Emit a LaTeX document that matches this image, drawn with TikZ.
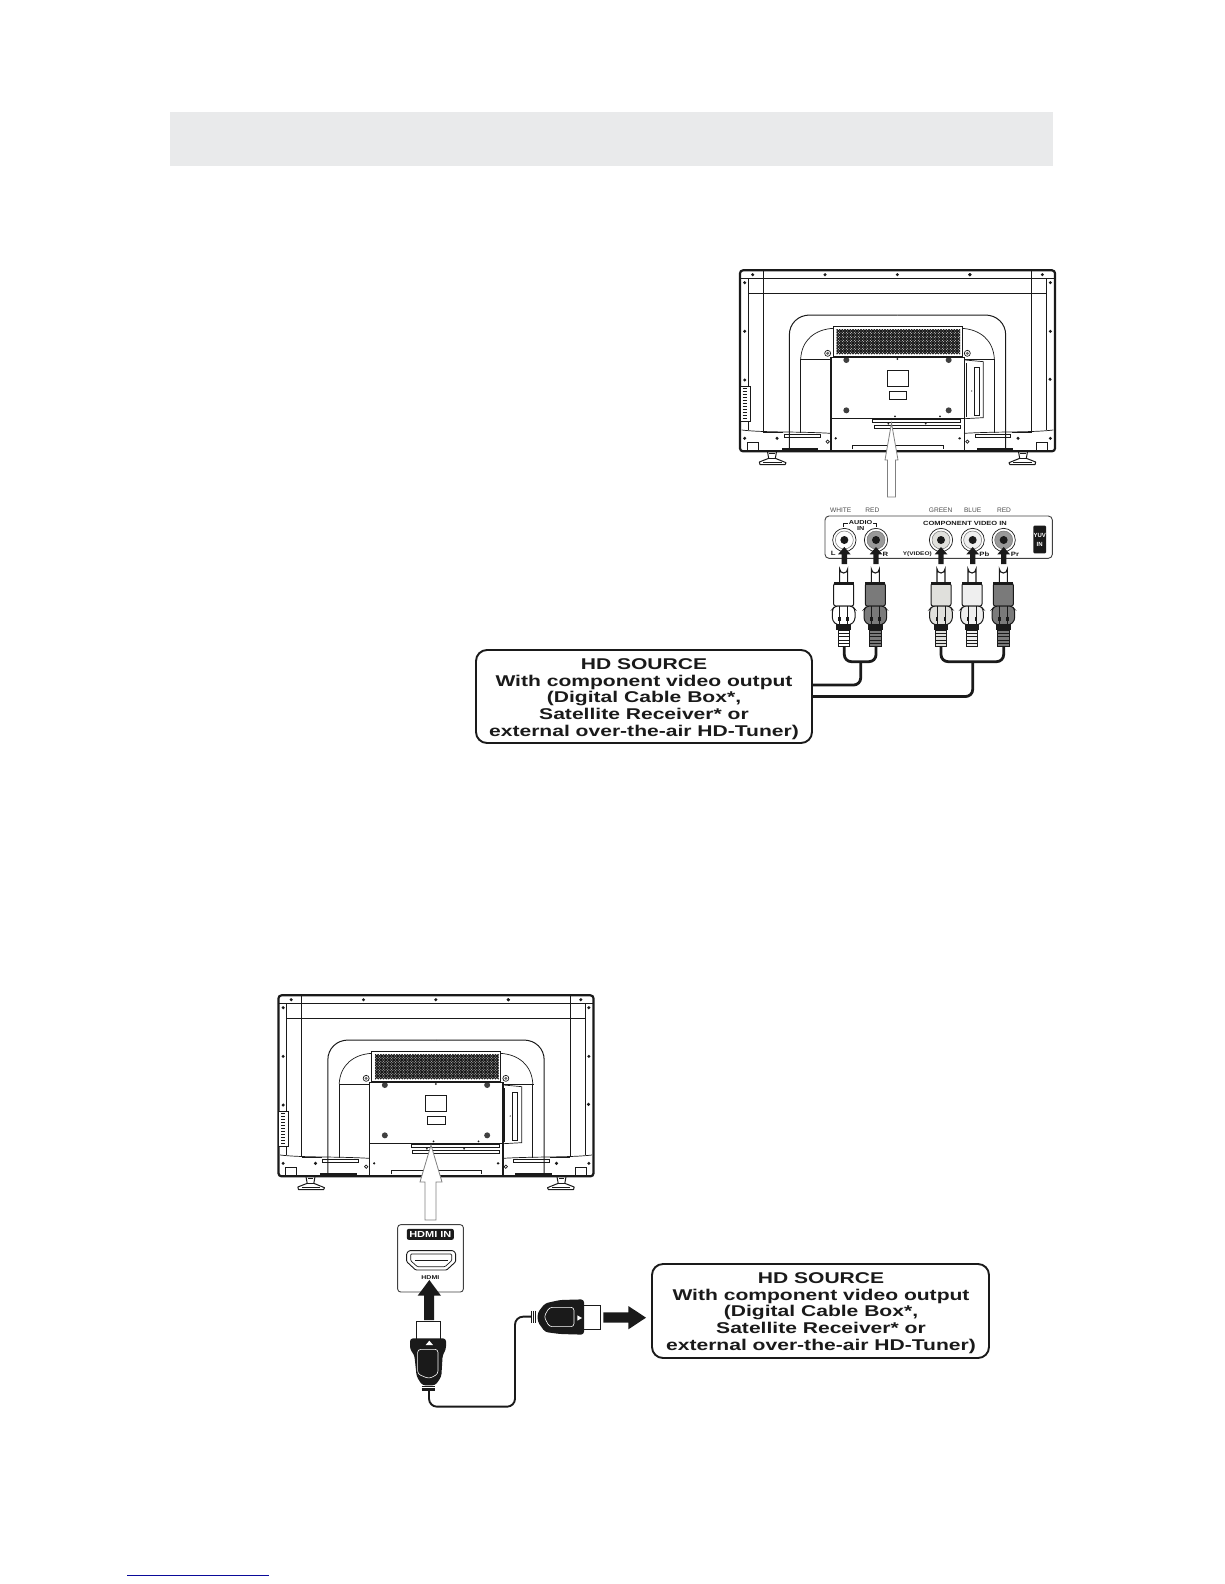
\documentclass[tikz,border=0pt]{standalone}
\usepackage{fontspec}
\setmainfont{Liberation Sans}
\newfontfamily\wideb[FakeStretch=1.35]{Liberation Sans Bold}
\newfontfamily\widec[FakeStretch=1.25]{Liberation Sans Bold}
\definecolor{barcol}{HTML}{E9EAEB}
\definecolor{linkcol}{HTML}{0A0A99}
\definecolor{inkcol}{HTML}{1A1A1A}
\definecolor{arrowgrey}{HTML}{808080}
\definecolor{plugdark}{HTML}{7A7A7A}
\definecolor{pluglight}{HTML}{E0E0DC}
\definecolor{plugpale}{HTML}{EFEFEF}
\tikzset{
  zoomunits/.style={x=0.33333pt,y=-0.33333pt},
  mirrortv/.style={shift={(1005,0)},xscale=-1},
  thinln/.style={draw=inkcol,line width=0.7pt},
  midln/.style={draw=inkcol,line width=1pt},
  thickln/.style={draw=inkcol,line width=1.6pt},
  heavyln/.style={draw=inkcol,line width=2.2pt},
  screwdot/.style={fill=inkcol,draw=none},
  sourcebox/.style={draw=inkcol,line width=1.9pt,rounded corners=11pt,fill=white},
  sourcetext/.style={inner sep=0pt,text=inkcol,text height=11pt,text depth=0pt,font=\wideb\fontsize{15.6}{16}\selectfont},
  tinylabel/.style={inner sep=0pt,text=black!70,font=\fontsize{6.6}{7}\selectfont},
  boldtiny/.style={inner sep=0pt,text=inkcol,font=\widec\fontsize{6.2}{7}\selectfont},
  hollowarrow/.style={draw=arrowgrey,line width=0.8pt,fill=white,line join=miter},
  wire/.style={draw=inkcol,line width=2.8pt,rounded corners=7pt},
  thinwire/.style={draw=inkcol,line width=1.9pt,rounded corners=7pt},
  blackarrow/.style={fill=inkcol,draw=none}
}
\newcommand{\tvside}{%
  \draw[thinln] (55,55)--(55,510);
  \draw[thinln] (100,32)--(100,516);
  \foreach \px/\py in {68/44,285/44,44/68,44/214,44/535,141/535}{\fill[screwdot] (\px,\py) circle[radius=5];}
  \draw[midln] (178,565)--(178,225) .. controls (178,190) and (205,165) .. (240,165) -- (502.5,165);
  \draw[thinln] (212,297) .. controls (215,240) and (255,208) .. (310,205);
  \draw[thinln] (303,297)--(212,297)--(212,520);
  \draw[thinln] (35,510) .. controls (100,518) and (200,514) .. (303,520);
  \draw[midln] (100,516)--(160,516);
  \draw[thinln] (163,522)--(270,522)--(270,532)--(163,532)--cycle;
  \fill[inkcol] (155,563) rectangle (265,574);
  \draw[thinln,fill=white] (293,280) circle[radius=9];
  \fill[black!60] (293,280) circle[radius=5];
  \draw[thinln] (293,545) circle[radius=5];
  \fill[screwdot] (317,535) circle[radius=3.5];
  \fill[black!75] (349,300) circle[radius=9];
  \fill[black!75] (349,451) circle[radius=9];
  \draw[midln,fill=white] (52,548) rectangle (85,572);
  \draw[midln,fill=white,line join=round] (112,572)--(140,572)--(136,595)--(168,608)--(165,614)--(90,614)--(88,606)--(116,595)--cycle;
  \draw[thinln] (116,595)--(136,595) (118,580)--(134,580) (100,606)--(155,606);
}
\newcommand{\tvback}{%
  \tvside
  \begin{scope}[mirrortv]\tvside\end{scope}
  \draw[thinln] (30,55)--(975,55) (55,100)--(952,100);
  \foreach \px in {502,719}{\fill[screwdot] (\px,44) circle[radius=5];}
  \fill[screwdot] (44,360) circle[radius=5];
  \fill[screwdot] (960,358) circle[radius=5];
  \draw[heavyln,rounded corners=3pt] (30,31) rectangle (975,574);
  \draw[midln,fill=white] (310,200) rectangle (697,290);
  \begin{scope}
    \clip (320,208) rectangle (690,282);
    \foreach \i in {240,248,...,700}{
      \draw[inkcol,line width=1pt] (\i,208)--(\i+74,282);
      \draw[inkcol,line width=1pt] (\i+74,208)--(\i,282);
    }
  \end{scope}
  \draw[thickln] (303,292) rectangle (703,574);
  \draw[thickln] (303,476)--(703,476);
  \draw[midln] (472,332) rectangle (535,380);
  \draw[thinln] (478,394) rectangle (530,419);
  \draw[thinln] (428,478) rectangle (692,488);
  \draw[thinln] (433,496) rectangle (692,505);
  \draw[midln] (368,568)--(368,557)--(640,557)--(640,568);
  \foreach \px/\py in {502/297,495/469,630/469,475/491,587/491,317/535,690/535}{\fill[screwdot] (\px,\py) circle[radius=3];}
  \draw[thinln] (705,300)--(760,305)--(760,473)--(705,476);
  \draw[midln] (708,310)--(708,470);
  \draw[midln] (733,322) rectangle (747,467);
  \draw[thinln] (703,297)--(795,297);
  \fill[screwdot] (725,393) circle[radius=2];
  \draw[midln,fill=white] (32,378)--(60,378)--(60,485)--(32,485);
  \foreach \py in {386,395,...,476}{\draw[inkcol,line width=1.4pt] (38,\py)--(50,\py);}
}
\newcommand{\rcajack}[2]{%
  \draw[inkcol,line width=0.7pt,fill=white] (#1,150) circle[radius=35];
  \draw[draw=black!55,line width=0.5pt,fill=#2] (#1,150) circle[radius=27];
  \fill[inkcol] (#1,150) circle[radius=12];
  \fill[blackarrow] (#1-8,222)--(#1-8,193)--(#1-19,193)--(#1,171)--(#1+19,193)--(#1+8,193)--(#1+8,222)--cycle;
}
\newcommand{\rcaplug}[2]{%
  \begin{scope}[shift={(#1,0)}]
    \draw[inkcol,line width=1.1pt,fill=white] (-12,285)--(-12,237) arc[start angle=180,end angle=0,radius=12]--(12,285);
    \draw[inkcol,line width=1pt,fill=#2,rounded corners=2pt] (-30,348)--(-30,280)--(30,280)--(30,348)--cycle;
    \fill[inkcol] (-30,277) rectangle (30,284);
    \draw[inkcol,line width=1pt,fill=#2,rounded corners=3pt] (-26,348)--(26,348)--(34,358)--(34,392)--(20,405)--(-20,405)--(-34,392)--(-34,358)--cycle;
    \draw[inkcol,line width=0.8pt] (-12,349)--(-12,405) (12,349)--(12,405);
    \fill[inkcol] (-16,380) rectangle (-8,392);
    \fill[inkcol] (8,380) rectangle (16,392);
    \fill[inkcol] (-22,403) rectangle (22,420);
    \draw[inkcol,line width=0.9pt,fill=#2] (-17,420) rectangle (17,468);
    \foreach \ry in {430,440,450,460}{\draw[inkcol,line width=0.9pt] (-17,\ry)--(17,\ry);}
  \end{scope}
}
\begin{document}
\begin{tikzpicture}[x=1pt,y=-1pt]
\useasboundingbox (0,0) rectangle (1224,1584);
\fill[barcol] (170,112) rectangle (1053,166);
\fill[linkcol] (127,1574.6) rectangle (269,1575.9);

% first television
\begin{scope}[shift={(730,260)},zoomunits]
  \tvback
\end{scope}
\draw[hollowarrow] (887.5,497)--(887.5,460)--(885,460)--(891.5,423)--(898,460)--(895.5,460)--(895.5,497)--cycle;

% component panel
\begin{scope}[shift={(800,490)},zoomunits]
  \draw[draw=black!75,line width=0.9pt,rounded corners=4pt] (75,78) rectangle (757,205);
  \node[tinylabel] (lbWhite) at (122,60) {WHITE};
  \node[tinylabel] (lbRedA) at (217,60) {RED};
  \node[tinylabel] (lbGreen) at (422,60) {GREEN};
  \node[tinylabel] (lbBlue) at (518,60) {BLUE};
  \node[tinylabel] (lbRedB) at (612,60) {RED};
  \node[boldtiny,font=\widec\fontsize{5.8}{7}\selectfont] (lbAudio) at (182,98) {AUDIO};
  \node[boldtiny,font=\widec\fontsize{5.8}{7}\selectfont] (lbIn) at (182,116) {IN};
  \draw[inkcol,line width=0.7pt] (131,110)--(131,100)--(143,100) (220,100)--(230,100)--(230,110);
  \node[boldtiny,font=\widec\fontsize{6}{7}\selectfont] (lbComp) at (495,101) {COMPONENT VIDEO IN};
  \node[boldtiny] (lbL) at (100,191) {L};
  \node[boldtiny] (lbR) at (256,193) {R};
  \node[boldtiny,font=\widec\fontsize{5.2}{6}\selectfont] (lbY) at (352,192) {Y(VIDEO)};
  \node[boldtiny] (lbPb) at (553,193) {Pb};
  \node[boldtiny] (lbPr) at (645,193) {Pr};
  \fill[inkcol,rounded corners=1pt] (700,107) rectangle (738,190);
  \node[inner sep=0pt,text=white,align=center,font=\bfseries\fontsize{6}{9}\selectfont] (lbYuv) at (719,149) {YUV\\IN};
  \rcajack{133}{white}
  \rcajack{228}{black!40}
  \rcajack{423}{pluglight}
  \rcajack{518}{plugpale}
  \rcajack{611}{black!40}
  \coordinate (plugA) at (133,470);
  \coordinate (plugB) at (228,470);
  \coordinate (plugC) at (423,470);
  \coordinate (plugD) at (518,470);
  \coordinate (plugE) at (611,470);
  \coordinate (joinA) at (182,515);
  \coordinate (joinB) at (518,515);
  \draw[wire] (plugA)--(133,515)--(228,515)--(plugB);
  \draw[wire] (plugC)--(423,515)--(611,515)--(plugE);
  \rcaplug{131}{white}
  \rcaplug{226}{plugdark}
  \rcaplug{423}{pluglight}
  \rcaplug{516}{plugpale}
  \rcaplug{610}{plugdark}
\end{scope}

% first source box
\node[sourcebox,minimum width=336pt,minimum height=93pt,inner sep=0pt] (sourceA) at (644,696.5) {};
\node[sourcetext] (srcA1) at (644,663.5) {HD SOURCE};
\node[sourcetext] (srcA2) at (644,680.5) {With component video output};
\node[sourcetext] (srcA3) at (644,697) {(Digital Cable Box*,};
\node[sourcetext] (srcA4) at (644,714) {Satellite Receiver* or};
\node[sourcetext] (srcA5) at (644,731) {external over-the-air HD-Tuner)};
\draw[wire] (sourceA.east |- 0,685)--(joinA |- 0,685)--(joinA);
\draw[wire] (sourceA.east |- 0,696.5)--(joinB |- 0,696.5)--(joinB);

% second television
\begin{scope}[shift={(268.5,985)},zoomunits]
  \tvback
\end{scope}
\draw[hollowarrow] (425,1220)--(425,1182)--(420,1182)--(431,1145)--(442,1182)--(436,1182)--(436,1220)--cycle;

% hdmi panel and connectors
\begin{scope}[shift={(380,1190)},zoomunits]
  \draw[draw=black!75,line width=0.9pt,fill=white,rounded corners=3pt] (53,104) rectangle (250,306);
  \node[fill=inkcol,text=white,rounded corners=2pt,minimum width=47pt,minimum height=11pt,inner sep=0pt,font=\widec\fontsize{8.8}{10}\selectfont] (hdmiIn) at (151,133) {HDMI IN};
  \draw[inkcol,line width=0.9pt,fill=white,rounded corners=1pt] (80,190)--(87,182)--(220,182)--(227,190)--(227,215)--(200,240)--(107,240)--(80,215)--cycle;
  \draw[inkcol,line width=0.7pt,rounded corners=1pt] (92,192)--(215,192)--(215,212)--(195,230)--(112,230)--(92,212)--cycle;
  \draw[inkcol,line width=1.5pt] (105,211)--(203,211);
  \node[boldtiny,font=\widec\fontsize{5.6}{6}\selectfont] (hdmiLbl) at (151,262) {HDMI};
  \fill[blackarrow] (132,390)--(132,317)--(113,317)--(148,270)--(183,317)--(162,317)--(162,390)--cycle;
  \fill[blackarrow] (670,367)--(745,367)--(745,348)--(798,383)--(745,418)--(745,398)--(670,398)--cycle;
  % vertical plug
  \coordinate (strainA) at (147,600);
  \coordinate (strainB) at (455,380);
  \draw[thinwire,rounded corners=8pt] (strainA)--(147,650)--(405,650)--(405,380)--(strainB);
  \draw[inkcol,line width=1pt,fill=white] (110,395) rectangle (182,447);
  \fill[inkcol,rounded corners=3pt] (90,445)--(198,445)--(198,478)--(188,495)--(184,560)--(166,586)--(127,586)--(110,560)--(103,495)--(90,478)--cycle;
  \draw[white,line width=0.6pt,rounded corners=3pt] (113,478)--(174,478)--(174,552)--(147,566)--(113,552)--cycle;
  \fill[white] (148,452)--(137,465)--(159,465)--cycle;
  \draw[inkcol,line width=1.2pt] (125,590)--(166,590) (125,595)--(166,595) (125,600)--(166,600);
  % horizontal plug
  \draw[inkcol,line width=1pt,fill=white] (610,347) rectangle (662,418);
  \fill[inkcol,rounded corners=3pt] (612,328)--(612,434)--(540,432)--(495,426)--(473,395)--(473,368)--(495,340)--(540,330)--cycle;
  \draw[white,line width=0.6pt,rounded corners=3pt] (492,380)--(508,352)--(582,352)--(582,410)--(508,410)--cycle;
  \fill[white] (592,376)--(606,384)--(592,392)--cycle;
  \draw[inkcol,line width=1.2pt] (455,362)--(455,400) (461,362)--(461,400) (467,362)--(467,400);
\end{scope}

% second source box
\node[sourcebox,minimum width=337pt,minimum height=94pt,inner sep=0pt] (sourceB) at (820.5,1311) {};
\node[sourcetext] (srcB1) at (821,1278) {HD SOURCE};
\node[sourcetext] (srcB2) at (821,1295) {With component video output};
\node[sourcetext] (srcB3) at (821,1311) {(Digital Cable Box*,};
\node[sourcetext] (srcB4) at (821,1328) {Satellite Receiver* or};
\node[sourcetext] (srcB5) at (821,1345) {external over-the-air HD-Tuner)};
\end{tikzpicture}
\end{document}
